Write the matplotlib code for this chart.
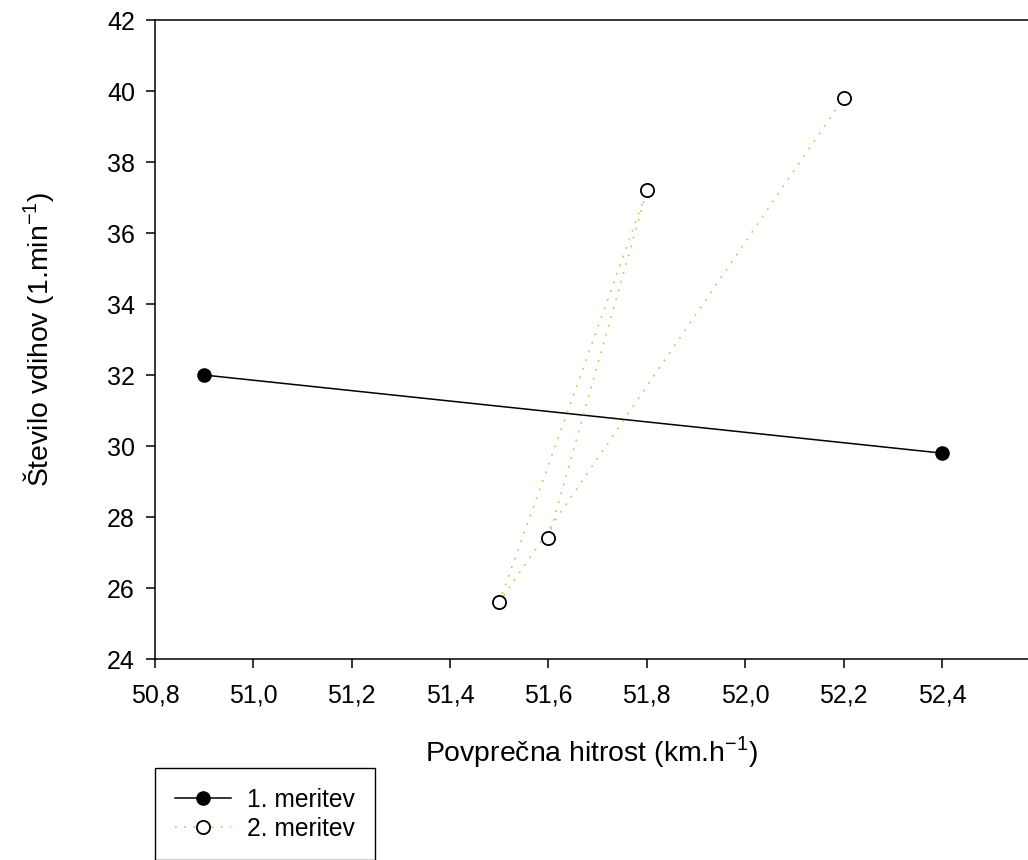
import numpy as np
import matplotlib
matplotlib.use('Agg')
import matplotlib.pyplot as plt
from matplotlib.ticker import FuncFormatter

plt.rcParams['font.family'] = ['Liberation Sans', 'DejaVu Sans']
plt.rcParams['mathtext.fontset'] = 'custom'
plt.rcParams['mathtext.rm'] = 'Liberation Sans'

# 1. meritev
hitrost_1 = [50.9, 52.4]
vdihi_1 = [32.0, 29.8]

# 2. meritev (order as the line is drawn)
hitrost_2 = [51.6, 51.8, 51.5, 52.2]
vdihi_2 = [27.4, 37.2, 25.6, 39.8]

x_ticks = [50.8, 51.0, 51.2, 51.4, 51.6, 51.8, 52.0, 52.2, 52.4]
y_ticks = [24, 26, 28, 30, 32, 34, 36, 38, 40, 42]

fig = plt.figure(figsize=(10.28, 8.6), dpi=100)
ax = fig.add_axes([0.1508, 0.2337, 0.8492, 0.743])

ax.plot(hitrost_1, vdihi_1, color='black', lw=1.1, marker='o', ms=9.5,
        mfc='black', mec='black', label='1. meritev')
ax.plot(hitrost_2, vdihi_2, color='#b4cc5e', lw=1.1, dashes=(1.2, 4.8),
        marker='o', ms=9.5, mfc='white', mec='black', mew=1.3,
        label='2. meritev')

ax.set_xlim(50.8, 52.575)
ax.set_ylim(24, 42)
ax.set_xticks(x_ticks)
ax.set_yticks(y_ticks)
ax.xaxis.set_major_formatter(FuncFormatter(lambda v, p: ('%.1f' % v).replace('.', ',')))

ax.spines['right'].set_visible(False)
for s in ['left', 'bottom', 'top']:
    ax.spines[s].set_linewidth(1.1)
ax.tick_params(direction='out', length=6.5, width=1.1, labelsize=18)
ax.tick_params(axis='x', pad=11, top=False)
ax.tick_params(axis='y', pad=8)

ax.set_xlabel('Povprečna hitrost (km.h$^{\\mathregular{-1}}$)', fontsize=20.4)
ax.set_ylabel('Število vdihov (1.min$^{\\mathregular{-1}}$)', fontsize=20.4)
ax.xaxis.set_label_coords(0.5, -0.118)
ax.yaxis.set_label_coords(-0.112, 0.5)

leg = fig.legend(loc='upper left', bbox_to_anchor=(0.1508, 0.107),
                 bbox_transform=fig.transFigure, borderaxespad=0,
                 fontsize=17.7, numpoints=1, handlelength=2.3,
                 handletextpad=0.65, labelspacing=0.2, borderpad=0.8,
                 fancybox=False, edgecolor='black', framealpha=1)
leg.get_frame().set_linewidth(1.0)

fig.savefig('out.png', dpi=100)
